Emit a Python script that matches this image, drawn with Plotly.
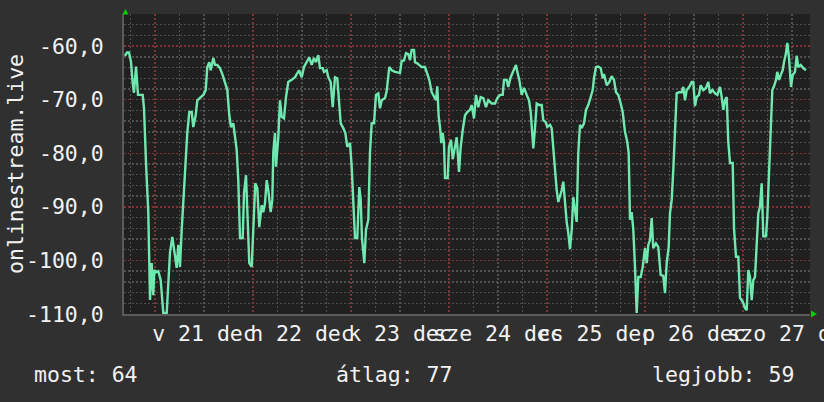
import pandas as pd
import plotly.graph_objects as go

# ---- data ----
# sample times, hours relative to 2025-12-21 00:00
hours = [-7.35, -6.86, -6.37, -5.88, -5.46, -5.14, -4.65, -4.33, -4.16, -3.01,
         -2.69, -2.20, -1.64, -1.22, -0.81, -0.42, -0.17, 0.24, 0.81, 1.40,
         1.64, 2.03, 2.87, 3.26, 3.67, 4.24, 4.90, 5.31, 5.71, 6.12,
         6.54, 6.93, 7.59, 7.91, 8.40, 8.99, 9.38, 9.97, 10.36, 11.02,
         11.83, 12.42, 12.81, 13.30, 13.64, 14.28, 14.69, 15.26, 15.92, 16.58,
         17.14, 17.71, 18.20, 18.61, 19.18, 19.59, 20.01, 20.40, 20.82, 21.48,
         21.80, 22.29, 22.60, 23.09, 23.68, 24.07, 24.56, 25.05, 25.54, 26.13,
         26.52, 26.94, 27.36, 27.75, 28.33, 28.73, 28.97, 29.39, 29.63, 30.20,
         30.61, 31.03, 31.59, 32.08, 32.64, 33.48, 34.29, 35.27, 35.93, 36.49,
         37.15, 37.79, 38.38, 38.94, 39.43, 39.99, 40.41, 41.07, 41.39, 42.05,
         42.44, 43.03, 43.52, 44.08, 44.64, 45.13, 45.48, 46.11, 46.60, 47.09,
         47.76, 48.17, 48.56, 48.98, 49.54, 50.03, 50.38, 50.69, 51.26, 51.67,
         52.24, 52.65, 53.07, 53.63, 54.12, 54.69, 55.10, 55.52, 56.33, 56.74,
         57.38, 57.97, 58.78, 60.00, 60.42, 60.98, 61.47, 62.03, 62.45, 62.86,
         63.43, 63.67, 64.24, 64.73, 65.31, 66.12, 66.54, 67.17, 67.76, 68.33,
         68.82, 69.13, 69.48, 69.80, 70.11, 70.46, 70.78, 71.02, 71.68, 72.00,
         72.49, 72.91, 73.47, 73.89, 74.45, 74.87, 75.36, 75.92, 76.49, 77.14,
         77.56, 78.12, 78.61, 79.18, 79.76, 80.40, 81.06, 81.62, 82.46, 83.27,
         83.83, 84.49, 85.15, 85.47, 86.13, 86.52, 87.11, 87.75, 88.41, 88.73,
         89.22, 89.80, 90.37, 91.03, 91.59, 92.01, 92.40, 92.65, 93.06, 93.48,
         94.11, 94.70, 95.09, 95.68, 96.07, 96.74, 97.15, 97.54, 97.96, 98.38,
         98.77, 99.18, 99.60, 99.99, 100.41, 100.82, 101.22, 101.63, 102.05, 102.44,
         102.86, 103.27, 103.66, 104.08, 104.50, 105.06, 105.55, 106.11, 106.70, 107.19,
         107.51, 108.00, 108.56, 109.15, 109.64, 109.96, 110.62, 111.26, 111.84, 112.41,
         112.90, 113.46, 114.05, 114.54, 115.10, 115.67, 116.01, 116.33, 116.74, 117.14,
         117.55, 117.97, 118.36, 118.95, 119.44, 120.00, 120.42, 120.81, 121.22, 121.64,
         122.03, 122.69, 123.26, 123.84, 124.48, 124.90, 125.31, 125.80, 126.12, 126.54,
         126.93, 127.35, 127.76, 128.33, 128.99, 129.38, 129.80, 130.21, 130.85, 131.44,
         131.83, 132.25, 132.66, 133.22, 133.64, 134.28, 134.94, 135.50, 135.92, 136.49,
         137.14, 137.71, 138.37, 138.78, 139.18, 139.59, 140.01, 140.40, 140.82, 141.48,
         141.80, 142.29, 142.85, 143.27, 143.93, 144.49, 144.91, 145.30, 145.71, 146.13,
         146.52, 146.94, 147.36, 147.75, 148.16, 148.58, 148.97, 149.63, 149.95, 150.37,
         150.78, 151.18, 151.59, 152.08, 152.40, 152.82, 153.23, 153.72, 154.04, 154.53,
         154.85, 155.27, 155.76, 156.17, 156.74, 157.15, 157.54, 158.13, 158.77, 159.42]

values = [-61.8, -61.2, -61.2, -62.9, -66.9, -68.7, -63.8, -69.0, -69.1, -69.1,
          -71.6, -81.8, -91.0, -107.4, -100.5, -106.5, -101.8, -102.2, -102.0, -103.7,
          -106.5, -109.8, -109.8, -104.9, -98.6, -95.6, -99.0, -101.4, -97.1, -101.2,
          -94.3, -88.7, -81.8, -76.2, -72.3, -72.3, -75.1, -72.9, -70.1, -69.7,
          -69.1, -68.2, -63.9, -63.0, -64.5, -62.2, -63.5, -63.5, -64.1, -65.4,
          -66.7, -68.2, -72.9, -75.1, -74.4, -77.0, -79.4, -85.0, -95.8, -95.8,
          -87.4, -84.1, -91.9, -100.5, -101.2, -94.7, -85.6, -86.5, -93.8, -89.7,
          -91.0, -89.3, -85.0, -86.9, -91.0, -88.7, -79.8, -76.2, -82.5, -77.0,
          -70.1, -73.2, -73.5, -69.5, -66.7, -66.3, -65.8, -64.5, -65.8, -63.9,
          -63.0, -62.1, -63.5, -62.2, -63.0, -61.7, -64.1, -64.1, -64.8, -64.5,
          -65.8, -66.7, -71.4, -65.8, -66.0, -71.4, -74.4, -75.3, -76.2, -78.8,
          -78.1, -82.5, -88.7, -95.8, -95.8, -86.3, -88.7, -95.8, -100.5, -94.3,
          -92.4, -79.8, -74.4, -74.4, -69.1, -68.8, -71.6, -70.1, -69.7, -68.4,
          -63.9, -64.5, -64.8, -65.0, -62.7, -62.7, -61.3, -61.5, -62.6, -60.7,
          -60.7, -63.0, -63.2, -63.5, -63.9, -63.9, -64.8, -66.3, -68.6, -69.5,
          -70.1, -67.5, -73.2, -75.1, -78.1, -76.2, -78.1, -84.6, -84.6, -78.8,
          -77.5, -81.1, -78.8, -77.0, -83.5, -78.8, -75.7, -72.9, -72.3, -71.9,
          -71.0, -73.5, -69.1, -71.4, -69.5, -69.7, -71.4, -70.1, -70.7, -70.7,
          -69.7, -69.1, -69.1, -66.3, -66.3, -67.6, -65.8, -64.8, -63.5, -64.8,
          -66.3, -69.1, -67.8, -69.1, -70.1, -72.3, -75.7, -79.1, -75.3, -70.7,
          -71.0, -71.0, -73.8, -74.2, -75.1, -74.7, -75.3, -79.4, -83.1, -86.9,
          -89.1, -88.2, -86.9, -85.3, -89.7, -92.8, -94.9, -97.9, -94.3, -88.2,
          -90.6, -92.8, -80.0, -74.7, -75.3, -74.4, -71.9, -71.0, -69.5, -68.2,
          -66.0, -63.9, -63.8, -64.1, -66.0, -65.2, -67.3, -66.7, -65.6, -66.3,
          -68.6, -69.1, -70.7, -72.3, -76.0, -77.9, -80.0, -92.4, -91.0, -94.3,
          -101.2, -109.8, -103.1, -103.1, -101.2, -97.7, -100.5, -97.1, -96.2, -92.1,
          -97.7, -96.8, -97.5, -102.7, -102.9, -106.1, -100.5, -97.5, -91.2, -88.7,
          -83.1, -76.2, -68.8, -68.6, -68.6, -67.6, -70.1, -68.2, -67.6, -66.7,
          -66.7, -71.2, -69.5, -69.1, -67.3, -68.2, -67.8, -66.7, -68.8, -68.2,
          -68.8, -69.1, -67.6, -69.5, -71.9, -70.1, -69.5, -77.9, -81.8, -81.8,
          -94.0, -99.3, -99.3, -107.0, -107.7, -108.9, -109.3, -101.8, -103.1, -107.4,
          -103.7, -103.1, -96.2, -91.2, -90.0, -85.6, -95.5, -95.5, -91.9, -84.4,
          -78.5, -68.2, -67.5, -66.3, -64.8, -66.3, -65.4, -64.5, -63.0, -61.3,
          -59.4, -62.2, -67.6, -65.4, -64.8, -61.8, -63.9, -63.5, -64.1, -64.5]

day_dates = ["2025-12-21", "2025-12-22", "2025-12-23", "2025-12-24",
             "2025-12-25", "2025-12-26", "2025-12-27"]
day_labels = ["v 21 dec", "h 22 dec", "k 23 dec", "sze 24 dec",
              "cs 25 dec", "p 26 dec", "szo 27 dec"]

y_ticks = [-60, -70, -80, -90, -100, -110]
y_tick_labels = ["-60,0", "-70,0", "-80,0", "-90,0", "-100,0", "-110,0"]

x_range = ["2025-12-20 16:24:36", "2025-12-27 16:24:36"]
y_range = [-110, -54]

series_name = "onlinestream.live"
legend_items = ["most: 64", "átlag: 77", "legjobb: 59"]

# ---- figure ----
base = pd.Timestamp("2025-12-21 00:00")
times = base + pd.to_timedelta(hours, unit="h")
noon = [pd.Timestamp(d) + pd.Timedelta(hours=12) for d in day_dates]

FONT = "DejaVu Sans Mono"
FS = 21.5
TXT = "#f2f2f2"
GRID_MINOR = "#4f4f4f"
GRID_MAJOR = "#7a3434"

fig = go.Figure()
fig.add_trace(go.Scatter(
    x=times, y=values, mode="lines",
    line=dict(color="#70e8b0", width=2.4),
    hoverinfo="skip", showlegend=False,
))
# empty trace that only registers the label axis (x2)
fig.add_trace(go.Scatter(x=[], y=[], xaxis="x2", yaxis="y",
                         hoverinfo="skip", showlegend=False))

fig.update_layout(
    template="none",
    width=824, height=402,
    margin=dict(l=124, r=14, t=14, b=88),
    paper_bgcolor="#303030",
    plot_bgcolor="#202020",
    font=dict(family=FONT, size=FS, color=TXT),
    showlegend=False,
    xaxis=dict(
        type="date", range=x_range,
        tick0=day_dates[0], dtick=86400000,
        showgrid=True, gridcolor=GRID_MAJOR, gridwidth=1.5, griddash="2px,2px",
        minor=dict(tick0=day_dates[0], dtick=21600000, showgrid=True,
                   gridcolor=GRID_MINOR, gridwidth=1.5, griddash="2px,2px"),
        showticklabels=False, ticks="",
        showline=True, linecolor="#5a5a5a", linewidth=2,
        zeroline=False, fixedrange=True, automargin=False,
    ),
    xaxis2=dict(
        type="date", range=x_range, overlaying="x", anchor="y", side="bottom",
        tickmode="array", tickvals=noon, ticktext=day_labels,
        tickangle=0, ticklabeloverflow="allow",
        tickfont=dict(family=FONT, size=FS, color=TXT),
        showgrid=False, showline=False, zeroline=False, ticks="",
        ticklabelstandoff=4, automargin=False, fixedrange=True,
    ),
    yaxis=dict(
        range=y_range,
        tickmode="array", tickvals=y_ticks, ticktext=y_tick_labels,
        tickfont=dict(family=FONT, size=FS, color=TXT),
        showgrid=True, gridcolor=GRID_MAJOR, gridwidth=1.5, griddash="2px,2px",
        minor=dict(tickmode="linear", tick0=-110, dtick=2, showgrid=True,
                   gridcolor=GRID_MINOR, gridwidth=1.5, griddash="2px,2px"),
        ticks="", ticklabelstandoff=14,
        showline=True, linecolor="#5a5a5a", linewidth=2,
        zeroline=False, fixedrange=True, automargin=False,
    ),
)

# y-axis title
fig.add_annotation(
    text=series_name, textangle=-90,
    xref="paper", yref="paper", x=(15 - 124) / 686, y=0.5,
    xanchor="center", yanchor="middle", showarrow=False,
    font=dict(family=FONT, size=FS, color=TXT),
)

# legend row
legend_x = [32, 334, 650]
for txt, px in zip(legend_items, legend_x):
    fig.add_annotation(
        text=txt, xref="paper", yref="paper",
        x=(px - 124) / 686, y=(314 - 374) / 300,
        xanchor="left", yanchor="middle", showarrow=False,
        font=dict(family=FONT, size=FS, color=TXT),
    )

# axis arrows (rrdtool style)
def px_to_paper(px, py):
    return (px - 124) / 686, (314 - py) / 300

def tri(points):
    pts = [px_to_paper(*p) for p in points]
    return "M " + " L ".join(f"{a},{b}" for a, b in pts) + " Z"

fig.add_shape(type="path", xref="paper", yref="paper",
              path=tri([(122.5, 14.5), (128.5, 14.5), (125.5, 9)]),
              fillcolor="#00d000", line=dict(width=0))
fig.add_shape(type="path", xref="paper", yref="paper",
              path=tri([(811, 310.5), (811, 317.5), (817, 314)]),
              fillcolor="#00d000", line=dict(width=0))

fig.write_html("out.html",
               config={"displayModeBar": False, "staticPlot": True},
               post_script="document.body.style.margin='0';document.body.style.background='#303030';")
